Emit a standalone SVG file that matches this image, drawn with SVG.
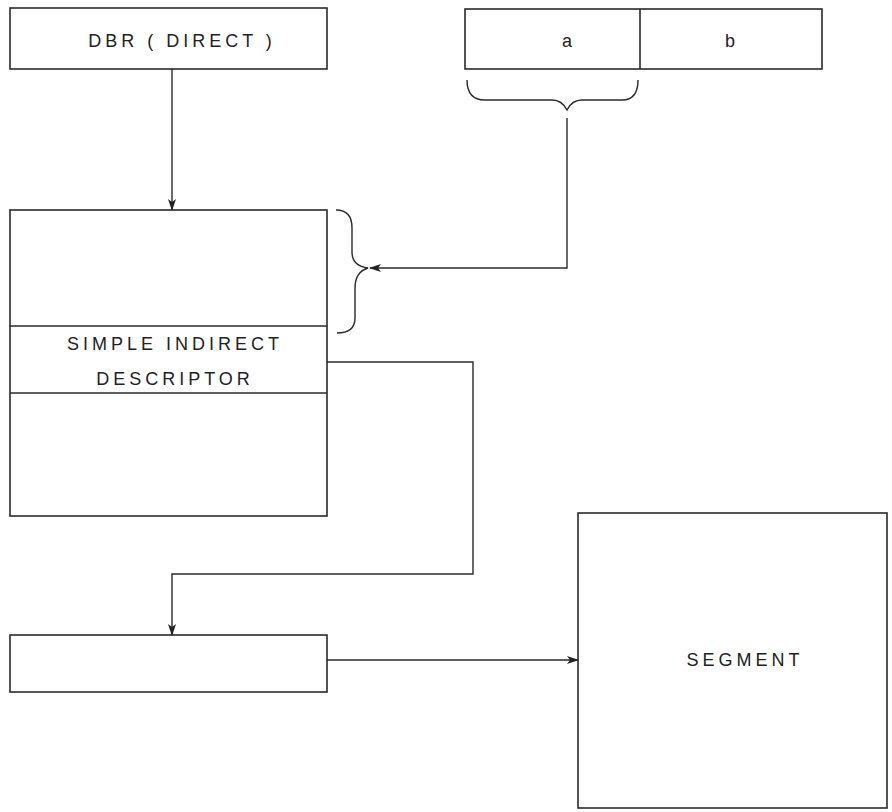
<svg xmlns="http://www.w3.org/2000/svg" width="892" height="812" viewBox="0 0 892 812">
<style>
.box{fill:none;stroke:#2a2a2a;stroke-width:1.6}
.ln{fill:none;stroke:#2a2a2a;stroke-width:1.4}
.t{font-family:"Liberation Sans",Arial,sans-serif;font-size:18px;fill:#222;text-anchor:middle;letter-spacing:4px}
</style>
<defs>
<marker id="ah" viewBox="0 0 12 10" refX="11" refY="5" markerWidth="12" markerHeight="10" markerUnits="userSpaceOnUse" orient="auto">
<path d="M0,1 L12,5 L0,9 L3,5 Z" fill="#222"/>
</marker>
</defs>
<rect width="892" height="812" fill="#fff"/>
<g id="dbr">
<rect class="box" x="10" y="8" width="317" height="61"/>
<text class="t" x="182" y="47">DBR ( DIRECT )</text>
</g>
<g id="ab">
<rect class="box" x="465" y="9" width="357" height="60"/>
<line class="box" x1="640" y1="9" x2="640" y2="69"/>
<text class="t" x="569" y="47">a</text>
<text class="t" x="732" y="47">b</text>
<path class="ln" d="M467,80 Q467,100 485,100 L552,100 Q562,100 567,110 Q572,100 582,100 L622,100 Q638,100 638,80"/>
</g>
<g id="descriptor">
<rect class="box" x="10" y="210" width="317" height="306"/>
<line class="box" x1="10" y1="326" x2="327" y2="326"/>
<line class="box" x1="10" y1="393" x2="327" y2="393"/>
<text class="t" x="175" y="350">SIMPLE INDIRECT</text>
<text class="t" x="175" y="385">DESCRIPTOR</text>
<path class="ln" d="M336,210 Q352,210 352,228 L352,252 Q352,266 368,268 Q355,272 355,288 L355,318 Q355,333 337,333"/>
</g>
<g id="target">
<rect class="box" x="10" y="635" width="317" height="57"/>
</g>
<g id="segment">
<rect class="box" x="578" y="513" width="309" height="295"/>
<text class="t" x="745" y="666">SEGMENT</text>
</g>
<g id="connectors">
<line class="ln" x1="172" y1="69" x2="172" y2="210" marker-end="url(#ah)"/>
<polyline class="ln" points="567,118 567,268 370,268" marker-end="url(#ah)"/>
<polyline class="ln" points="327,362 473,362 473,574 172,574 172,635" marker-end="url(#ah)"/>
<line class="ln" x1="327" y1="660" x2="578" y2="660" marker-end="url(#ah)"/>
</g>
</svg>
